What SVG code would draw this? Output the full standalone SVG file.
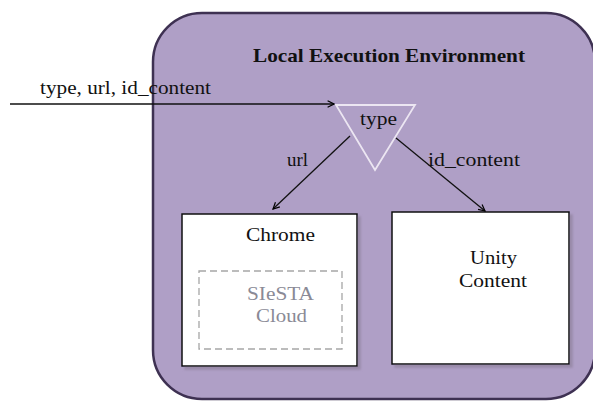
<svg xmlns="http://www.w3.org/2000/svg" width="593" height="401" viewBox="0 0 593 401">
<defs>
<marker id="ah" viewBox="0 0 10 10" refX="9" refY="5" markerWidth="8" markerHeight="8" orient="auto" markerUnits="userSpaceOnUse">
<path d="M1,1 L9,5 L1,9" fill="none" stroke="#000" stroke-width="1.5"/>
</marker>
<filter id="sh" x="-10%" y="-10%" width="130%" height="130%">
<feOffset dx="3" dy="3" in="SourceAlpha" result="o"/>
<feGaussianBlur in="o" stdDeviation="1" result="b"/>
<feColorMatrix in="b" type="matrix" values="0 0 0 0 0.25 0 0 0 0 0.2 0 0 0 0 0.3 0 0 0 0.6 0" result="c"/>
<feMerge><feMergeNode in="c"/><feMergeNode in="SourceGraphic"/></feMerge>
</filter>
</defs>
<style>
text{font-family:"Liberation Serif","Times New Roman",serif;fill:#111;}
.lbl{font-size:19px;}
.box{fill:#fff;stroke:#111;stroke-width:1.5;}
.conn{stroke:#111;stroke-width:1.3;fill:none;}
.grey{fill:#8a8a96;}
</style>
<g id="env">
<rect x="153" y="13" width="442" height="386" rx="49" ry="49" fill="#af9fc6" stroke="#3e3152" stroke-width="2.5"/>
<text x="253" y="62" font-size="19" font-weight="bold" textLength="272" lengthAdjust="spacingAndGlyphs">Local Execution Environment</text>
</g>
<g id="type">
<polygon points="336,105 415,105 375,170" fill="#af9fc6" stroke="#ece6f2" stroke-width="1.8"/>
<text class="lbl" x="360" y="125" textLength="37" lengthAdjust="spacingAndGlyphs">type</text>
</g>
<g id="chrome">
<rect class="box" x="182" y="214" width="175" height="152" filter="url(#sh)"/>
<text class="lbl" x="246" y="241" textLength="69" lengthAdjust="spacingAndGlyphs">Chrome</text>
</g>
<g id="siesta">
<rect x="199" y="271" width="143" height="78" fill="none" stroke="#a6a6a6" stroke-width="1.3" stroke-dasharray="7,4"/>
<text class="lbl grey" x="247" y="300" textLength="67" lengthAdjust="spacingAndGlyphs">SIeSTA</text>
<text class="lbl grey" x="256" y="322" textLength="51" lengthAdjust="spacingAndGlyphs">Cloud</text>
</g>
<g id="unity">
<rect class="box" x="392" y="212" width="177" height="152" filter="url(#sh)"/>
<text class="lbl" x="470" y="264" textLength="47" lengthAdjust="spacingAndGlyphs">Unity</text>
<text class="lbl" x="459" y="287" textLength="68" lengthAdjust="spacingAndGlyphs">Content</text>
</g>
<g id="connectors">
<line class="conn" x1="10" y1="104" x2="334" y2="104" marker-end="url(#ah)"/>
<text class="lbl" x="40" y="94" textLength="171" lengthAdjust="spacingAndGlyphs">type, url, id_content</text>
<line class="conn" x1="350" y1="136" x2="273" y2="209" marker-end="url(#ah)"/>
<text class="lbl" x="287" y="166" textLength="21" lengthAdjust="spacingAndGlyphs">url</text>
<line class="conn" x1="396" y1="138" x2="485" y2="211" marker-end="url(#ah)"/>
<text class="lbl" x="428" y="166" textLength="92" lengthAdjust="spacingAndGlyphs">id_content</text>
</g>
</svg>
